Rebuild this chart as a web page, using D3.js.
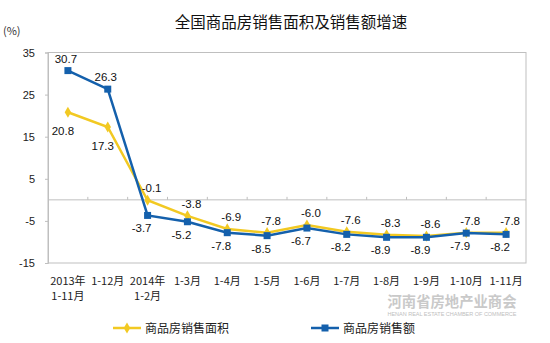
<!DOCTYPE html>
<html><head><meta charset="utf-8">
<script src="https://cdn.jsdelivr.net/npm/d3@7"></script>
<style>body{margin:0;background:#fff}svg{display:block}</style>
</head><body>
<svg id="c" width="550" height="343"></svg>
<script>
const categories = [["2013年","1-11月"],["1-12月"],["2014年","1-2月"],["1-3月"],["1-4月"],["1-5月"],["1-6月"],["1-7月"],["1-8月"],["1-9月"],["1-10月"],["1-11月"]];
const areaGrowth = [20.8, 17.3, -0.1, -3.8, -6.9, -7.8, -6.0, -7.6, -8.3, -8.6, -7.8, -7.8];
const salesGrowth = [30.7, 26.3, -3.7, -5.2, -7.8, -8.5, -6.7, -8.2, -8.9, -8.9, -7.9, -8.2];
const yTicks = [35, 25, 15, 5, -5, -15];
const seriesNames = ["商品房销售面积", "商品房销售额"];
const title = "全国商品房销售面积及销售额增速";

const svg = d3.select("#c");
const L = 48, R = 526, T = 52.5, B = 263;
const x = d3.scaleBand().domain(d3.range(categories.length)).range([L, R]);
const y = d3.scaleLinear().domain([-15, 35]).range([B, T]);
const cx = i => x(i) + x.bandwidth() / 2;
const YEL = "#F2C922", BLU = "#1460AC";
const num = "Liberation Sans, Arial, sans-serif";
const cjk = "SimSun, 'Noto Sans CJK SC', sans-serif";

// title
svg.append("text").attr("x", 291).attr("y", 28).attr("text-anchor", "middle")
  .attr("font-family", "'Noto Sans CJK SC', sans-serif").attr("font-size", 15.5).attr("fill", "#111").text(title);
svg.append("text").attr("x", 3).attr("y", 35).attr("font-family", cjk).attr("font-size", 11).attr("fill", "#333").text("(%)");

// plot border
svg.append("rect").attr("x", L).attr("y", T).attr("width", R - L).attr("height", B - T)
  .attr("fill", "none").attr("stroke", "#bfbfbf").attr("stroke-width", 1);

// y axis
const yAxis = d3.axisLeft(y).tickValues(yTicks).tickSize(3).tickPadding(10).tickFormat(d => String(d));
const ya = svg.append("g").attr("transform", `translate(${L},0)`).call(yAxis);
ya.select(".domain").attr("stroke", "#bfbfbf");
ya.selectAll(".tick line").attr("stroke", "#bfbfbf");
ya.selectAll("text").attr("font-family", num).attr("font-size", 11).attr("fill", "#222");

// zero category axis with upward ticks at boundaries
svg.append("line").attr("x1", L).attr("x2", R).attr("y1", y(0)).attr("y2", y(0)).attr("stroke", "#bfbfbf");
svg.selectAll(".ct").data(d3.range(1, categories.length)).join("line")
  .attr("x1", i => x(i)).attr("x2", i => x(i)).attr("y1", y(0)).attr("y2", y(0) - 3).attr("stroke", "#bfbfbf");

// category labels
const cl = svg.append("g");
categories.forEach((c, i) => {
  const t = cl.append("text").attr("x", cx(i)).attr("y", 285).attr("text-anchor", "middle")
    .attr("font-family", cjk).attr("font-size", 11).attr("fill", "#222");
  c.forEach((s, k) => t.append("tspan").attr("x", cx(i)).attr("dy", k ? 15 : 0).text(s));
});

const line = d3.line().x((d, i) => cx(i)).y(d => y(d));

// yellow series
svg.append("path").attr("d", line(areaGrowth)).attr("fill", "none").attr("stroke", YEL).attr("stroke-width", 2.5);
const diamond = d3.symbol().type(d3.symbolDiamond).size(36);
svg.selectAll(".ym").data(areaGrowth).join("path")
  .attr("transform", (d, i) => `translate(${cx(i)},${y(d)})`).attr("d", diamond).attr("fill", YEL);

// blue series
svg.append("path").attr("d", line(salesGrowth)).attr("fill", "none").attr("stroke", BLU).attr("stroke-width", 2.5);
svg.selectAll(".bm").data(salesGrowth).join("rect")
  .attr("x", (d, i) => cx(i) - 3.5).attr("y", d => y(d) - 3.5).attr("width", 7).attr("height", 7).attr("fill", BLU);

// labels: series with the higher value goes above
const fmt = v => v.toFixed(1);
areaGrowth.forEach((v, i) => {
  const above = v >= salesGrowth[i];
  svg.append("text").attr("x", cx(i) + (above ? 4 : -5)).attr("y", y(v) + (above ? -8 : 23))
    .attr("text-anchor", "middle").attr("font-family", num).attr("font-size", 11.5).attr("fill", "#111").text(fmt(v));
});
salesGrowth.forEach((v, i) => {
  const above = v > areaGrowth[i];
  svg.append("text").attr("x", cx(i) + (above ? -2 : -6)).attr("y", y(v) + (above ? -8 : 17))
    .attr("text-anchor", "middle").attr("font-family", num).attr("font-size", 11.5).attr("fill", "#111").text(fmt(v));
});

// watermark
svg.append("text").attr("x", 452).attr("y", 307).attr("text-anchor", "middle")
  .attr("font-family", "'Noto Sans CJK SC', sans-serif").attr("font-weight", "bold").attr("font-size", 14.3)
  .attr("fill", "#c9c9c9").attr("textLength", 129).text("河南省房地产业商会");
svg.append("text").attr("x", 452).attr("y", 316).attr("text-anchor", "middle")
  .attr("font-family", num).attr("font-size", 5.5).attr("fill", "#c0c0c0").attr("textLength", 129).text("HENAN REAL ESTATE CHAMBER OF COMMERCE");

// legend
const lg = [[113, YEL, "d"], [311, BLU, "s"]];
lg.forEach(([lx, col, m], k) => {
  const ly = 328;
  svg.append("line").attr("x1", lx).attr("x2", lx + 28).attr("y1", ly).attr("y2", ly).attr("stroke", col).attr("stroke-width", 2.5);
  if (m === "d") svg.append("path").attr("transform", `translate(${lx + 14},${ly})`).attr("d", diamond).attr("fill", col);
  else svg.append("rect").attr("x", lx + 10.5).attr("y", ly - 3.5).attr("width", 7).attr("height", 7).attr("fill", col);
  svg.append("text").attr("x", lx + 32).attr("y", ly + 4.5).attr("font-family", cjk).attr("font-size", 12)
    .attr("fill", "#222").text(seriesNames[k]);
});
</script>
</body></html>
